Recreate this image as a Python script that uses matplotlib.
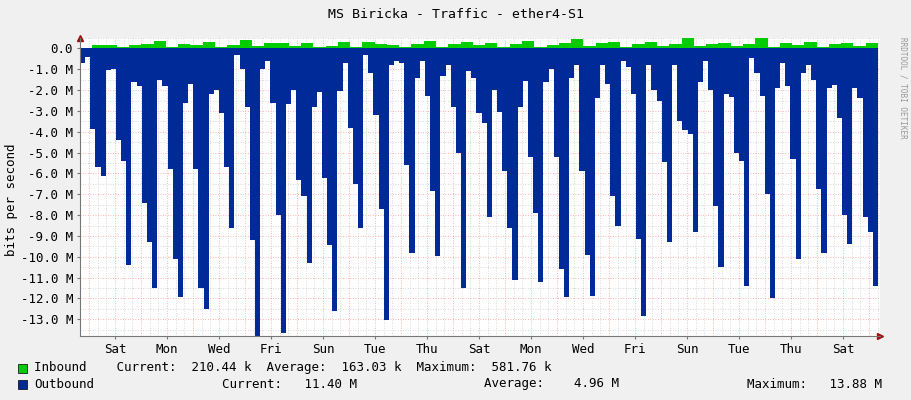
import numpy as np
import matplotlib.pyplot as plt

# outbound traffic, M bit/s (drawn negative), one value per ~5 px step
outbound = [0.7, 0.4, 3.85, 5.7, 6.1, 1.05, 1.0, 4.4, 5.4, 10.4, 1.6, 1.8, 7.4, 9.3, 11.5,
            1.5, 1.8, 5.8, 10.1, 11.95, 2.6, 1.7, 5.8, 11.5, 12.5, 2.2, 2.0, 3.1, 5.7, 8.6,
            0.3, 1.0, 2.8, 9.2, 13.8, 1.0, 0.6, 2.6, 8.0, 13.65, 2.65, 2.0, 6.3, 7.1, 10.3,
            2.8, 2.1, 6.2, 9.45, 12.6, 2.05, 0.7, 3.8, 6.5, 8.6, 0.3, 1.2, 3.2, 7.7, 13.05,
            0.8, 0.6, 0.7, 5.6, 9.8, 1.4, 0.6, 2.3, 6.85, 9.95, 1.3, 0.8, 2.8, 5.0, 11.5,
            1.1, 1.4, 3.1, 3.6, 8.1, 2.0, 3.05, 5.9, 8.6, 11.1, 2.8, 1.55, 5.2, 7.9, 11.2,
            1.6, 1.0, 5.2, 10.6, 11.95, 1.4, 0.8, 5.9, 9.9, 11.9, 2.4, 0.8, 1.7, 7.1, 8.5,
            0.6, 0.9, 2.2, 9.15, 12.85, 0.8, 2.0, 2.5, 5.45, 9.3, 0.8, 3.5, 3.9, 4.1, 8.8,
            1.6, 0.6, 2.0, 7.55, 10.5, 2.2, 2.35, 5.0, 5.4, 11.4, 0.45, 1.2, 2.3, 7.0, 12.0,
            1.9, 0.7, 1.8, 5.3, 10.1, 1.2, 0.8, 1.5, 6.75, 9.8, 1.9, 1.75, 3.35, 8.0, 9.4,
            1.9, 2.4, 8.1, 8.8, 11.4]

# inbound traffic, M bit/s
inbound = [0.02, 0.15, 0.18, 0.05, 0.15, 0.2, 0.35, 0.08, 0.2, 0.18, 0.3, 0.08, 0.15, 0.4,
           0.12, 0.25, 0.28, 0.1, 0.28, 0.05, 0.12, 0.3, 0.08, 0.3, 0.2, 0.18, 0.08, 0.22,
           0.35, 0.05, 0.2, 0.3, 0.15, 0.25, 0.05, 0.2, 0.35, 0.08, 0.15, 0.28, 0.45, 0.1,
           0.25, 0.3, 0.08, 0.2, 0.3, 0.1, 0.2, 0.5, 0.12, 0.2, 0.25, 0.1, 0.2, 0.58, 0.05,
           0.25, 0.15, 0.3, 0.08, 0.2, 0.28, 0.12, 0.25]

day_labels = ["Sat", "Mon", "Wed", "Fri", "Sun", "Tue", "Thu",
              "Sat", "Mon", "Wed", "Fri", "Sun", "Tue", "Thu", "Sat"]

n = len(outbound)
span = 798.0                      # pixel width of the data
x_out = np.arange(n + 1) * span / n
x_in = np.arange(len(inbound) + 1) * span / len(inbound)

fig = plt.figure(figsize=(9.11, 4.0), dpi=100, facecolor="#F0F0F0")
ax = fig.add_axes([80 / 911, 64 / 400, 800 / 911, 298 / 400])
ax.set_facecolor("white")

o = -np.array(outbound + [outbound[-1]])
i = np.array(inbound + [inbound[-1]])
ax.fill_between(x_out, o, 0, step="post", color="#002A97", linewidth=0)
ax.fill_between(x_in, i, 0, step="post", color="#00CC00", linewidth=0)

ax.set_xlim(0, 800)
ax.set_ylim(-13.8, 0.5)

# grid
for y in np.arange(-13.5, 0.6, 0.5):
    major = abs(y - round(y)) < 1e-6
    ax.axhline(y, color="#FF9999" if major else "#CCCCCC", lw=0.6,
               ls=(0, (1, 2)), zorder=0.5)
day = 26.0
for k in range(-1, 34):
    xd = 35 + k * day
    if 0 < xd < 800:
        ax.axvline(xd, color="#FF9999", lw=0.6, ls=(0, (1, 2)), zorder=0.5)
    for s in (1, 2):
        xs = xd + s * day / 3
        if 0 < xs < 800:
            ax.axvline(xs, color="#CCCCCC", lw=0.6, ls=(0, (1, 2)), zorder=0.5)

yt = np.arange(-13, 1, 1)
ax.set_yticks(yt)
ax.set_yticklabels(["0.0" if v == 0 else f"{v:.1f} M" for v in yt],
                   family="DejaVu Sans Mono", fontsize=9)
ax.set_xticks([35 + 2 * k * day for k in range(len(day_labels))])
ax.set_xticklabels(day_labels, family="DejaVu Sans Mono", fontsize=9)
ax.tick_params(length=2, color="#777777", pad=3)
for sp in ("top", "right"):
    ax.spines[sp].set_visible(False)
for sp in ("left", "bottom"):
    ax.spines[sp].set_color("#777777")
ax.plot(800, -13.8, marker=">", color="#A01010", ms=4, clip_on=False)
ax.plot(0, 0.5, marker="^", color="#A01010", ms=4, clip_on=False)

mono = "DejaVu Sans Mono"
fig.text(0.5, 1 - 14 / 400, "MS Biricka - Traffic - ether4-S1", ha="center", va="center",
         family=mono, fontsize=9.5)
fig.text(12 / 911, 0.5, "bits per second", rotation=90, ha="center", va="center",
         family=mono, fontsize=9)
fig.text(903 / 911, 0.78, "RRDTOOL / TOBI OETIKER", rotation=270, ha="center", va="center",
         family=mono, fontsize=5.5, color="#999999")

fig.patches.append(plt.Rectangle((18 / 911, 1 - 373 / 400), 9 / 911, 9 / 400,
                                 transform=fig.transFigure, fc="#00CC00", ec="black", lw=0.5))
fig.patches.append(plt.Rectangle((18 / 911, 1 - 389 / 400), 9 / 911, 9 / 400,
                                 transform=fig.transFigure, fc="#002A97", ec="black", lw=0.5))
fig.text(34 / 911, 1 - 368 / 400,
         "Inbound    Current:  210.44 k  Average:  163.03 k  Maximum:  581.76 k",
         va="center", family=mono, fontsize=9)
fig.text(34 / 911, 1 - 384 / 400, "Outbound", va="center", family=mono, fontsize=9)
fig.text(222 / 911, 1 - 384 / 400, "Current:   11.40 M", va="center", family=mono, fontsize=9)
fig.text(484 / 911, 1 - 384 / 400, "Average:    4.96 M", va="center", family=mono, fontsize=9)
fig.text(747 / 911, 1 - 384 / 400, "Maximum:   13.88 M", va="center", family=mono, fontsize=9)

fig.savefig("out.png", dpi=100, facecolor=fig.get_facecolor())
